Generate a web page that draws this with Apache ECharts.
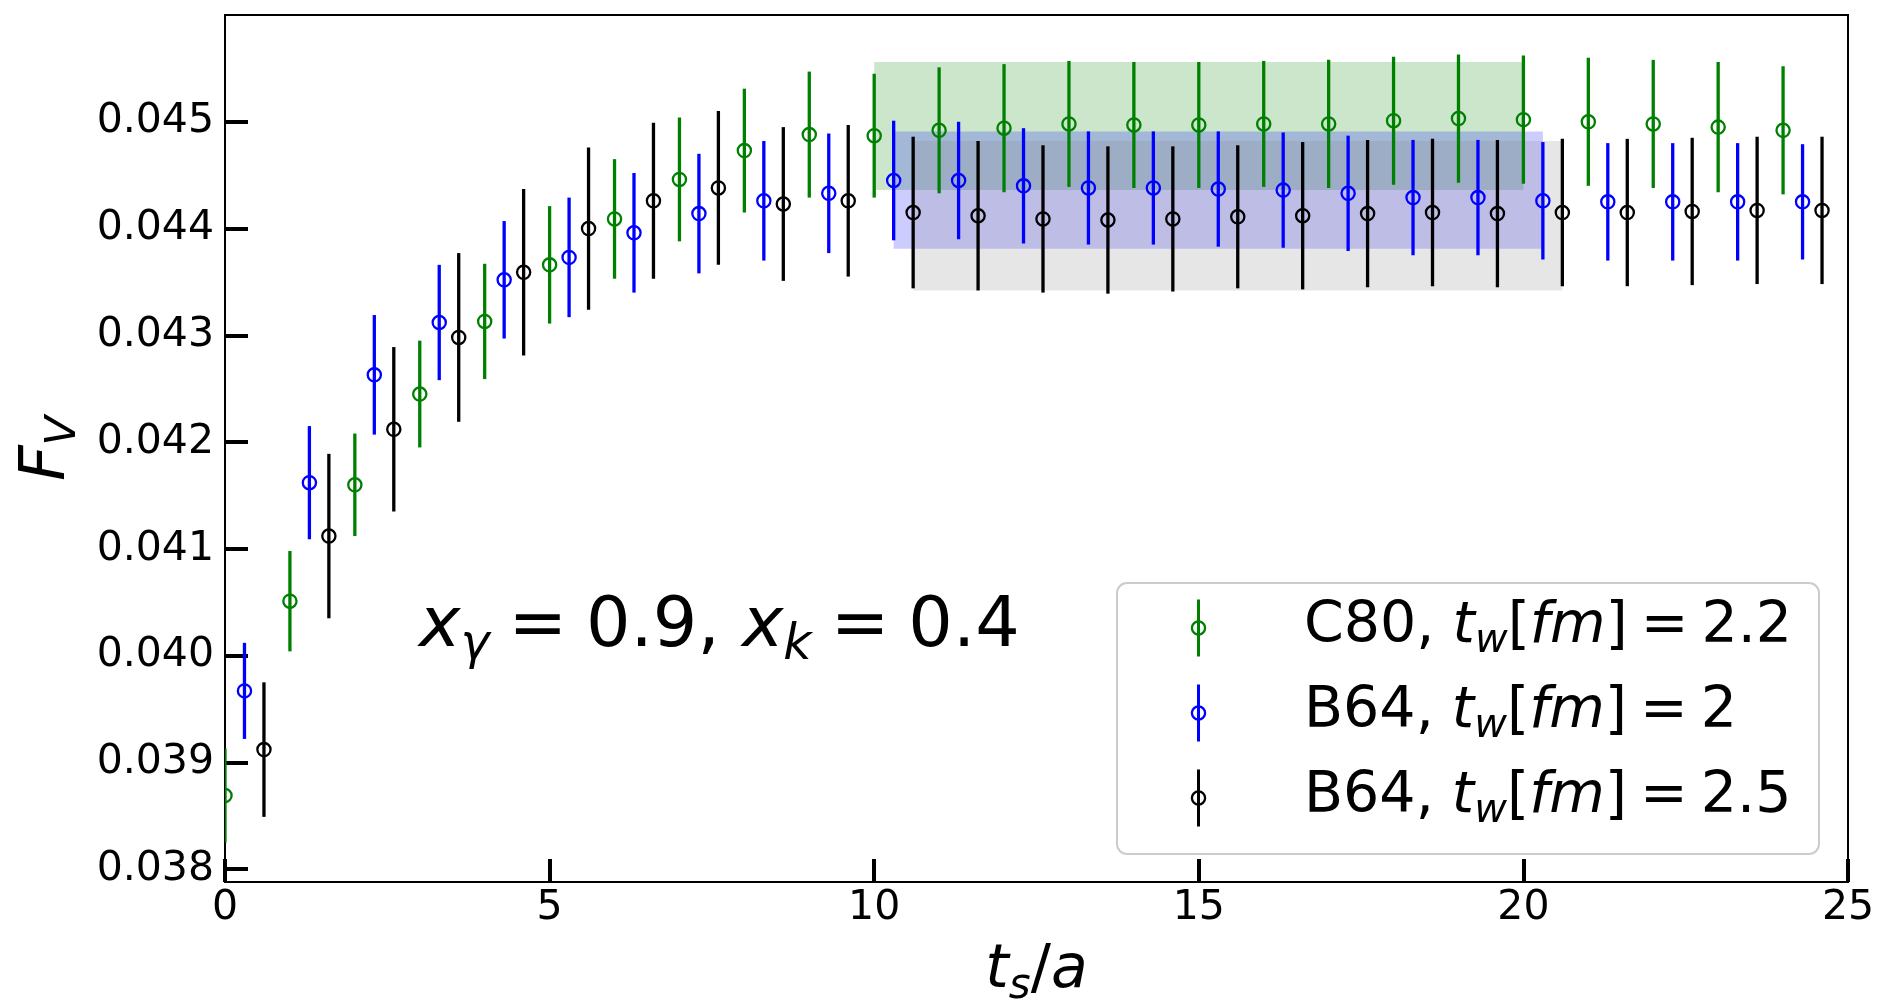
<!DOCTYPE html>
<html>
<head>
<meta charset="utf-8">
<script src="https://cdn.jsdelivr.net/npm/echarts@6/dist/echarts.min.js"></script>
<style>
  html, body {margin: 0; padding: 0; background: #fff;}
  #chart {width: 1880px; height: 1003px;}
</style>
</head>
<body>
<div id="chart"></div>
<script>
// C80, t_w = 2.2 fm (green)
const tC80 = [0, 1, 2, 3, 4, 5, 6, 7, 8, 9, 10, 11, 12, 13, 14, 15, 16, 17, 18, 19, 20, 21, 22, 23, 24];
const fvC80 = [0.03869, 0.04051, 0.04160, 0.04245, 0.04313, 0.04366, 0.04409, 0.04446, 0.04473, 0.04488,
  0.04487, 0.04492, 0.04494, 0.04498, 0.04497, 0.04497, 0.04498, 0.04498, 0.04501, 0.04503,
  0.04502, 0.04500, 0.04498, 0.04495, 0.04492];
const errC80 = [0.00044, 0.00047, 0.00048, 0.00050, 0.00054, 0.00055, 0.00056, 0.00058, 0.00058, 0.00059,
  0.00058, 0.00059, 0.00060, 0.00059, 0.00059, 0.00059, 0.00059, 0.00060, 0.00060, 0.00060,
  0.00060, 0.00060, 0.00060, 0.00061, 0.00060];

// B64, t_w = 2 fm (blue)
const tB64a = [0.3, 1.3, 2.3, 3.3, 4.3, 5.3, 6.3, 7.3, 8.3, 9.3, 10.3, 11.3, 12.3, 13.3, 14.3, 15.3, 16.3, 17.3, 18.3, 19.3, 20.3, 21.3, 22.3, 23.3, 24.3];
const fvB64a = [0.03967, 0.04162, 0.04263, 0.04312, 0.04352, 0.04373, 0.04396, 0.04414, 0.04426, 0.04433,
  0.04445, 0.04445, 0.04440, 0.04438, 0.04438, 0.04437, 0.04436, 0.04433, 0.04429, 0.04429,
  0.04426, 0.04425, 0.04425, 0.04425, 0.04425];
const errB64a = [0.00045, 0.00053, 0.00056, 0.00054, 0.00055, 0.00056, 0.00056, 0.00056, 0.00056, 0.00056,
  0.00056, 0.00055, 0.00054, 0.00053, 0.00053, 0.00054, 0.00054, 0.00054, 0.00054, 0.00054,
  0.00055, 0.00055, 0.00055, 0.00055, 0.00054];

// B64, t_w = 2.5 fm (black)
const tB64b = [0.6, 1.6, 2.6, 3.6, 4.6, 5.6, 6.6, 7.6, 8.6, 9.6, 10.6, 11.6, 12.6, 13.6, 14.6, 15.6, 16.6, 17.6, 18.6, 19.6, 20.6, 21.6, 22.6, 23.6, 24.6];
const fvB64b = [0.03912, 0.04112, 0.04212, 0.04298, 0.04359, 0.04400, 0.04426, 0.04438, 0.04423, 0.04426,
  0.04415, 0.04412, 0.04409, 0.04408, 0.04409, 0.04411, 0.04412, 0.04414, 0.04415, 0.04414,
  0.04415, 0.04415, 0.04416, 0.04417, 0.04417];
const errB64b = [0.00063, 0.00077, 0.00077, 0.00079, 0.00078, 0.00076, 0.00073, 0.00072, 0.00072, 0.00071,
  0.00071, 0.00070, 0.00069, 0.00069, 0.00068, 0.00067, 0.00069, 0.00069, 0.00069, 0.00069,
  0.00069, 0.00069, 0.00069, 0.00069, 0.00069];

// plateau fit bands: green, blue, grey
const bandStart = [10, 10.3, 10.6];
const bandEnd = [20, 20.3, 20.6];
const bandCenter = [0.04496, 0.04436, 0.04412];
const bandErr = [0.00060, 0.00055, 0.00070];

const yTicks = [0.038, 0.039, 0.040, 0.041, 0.042, 0.043, 0.044, 0.045];

const seriesNames = ['C80, tw[fm] = 2.2', 'B64, tw[fm] = 2', 'B64, tw[fm] = 2.5'];
const legendRich = [
  '{n|C80, }{i|t}{s|w}{n|[}{i|fm}{n|]}{eq|=}{n|2.2}',
  '{n|B64, }{i|t}{s|w}{n|[}{i|fm}{n|]}{eq|=}{n|2}',
  '{n|B64, }{i|t}{s|w}{n|[}{i|fm}{n|]}{eq|=}{n|2.5}',
];
const colors = ['#008000', '#0000ff', '#000000'];
const bandColors = ['rgba(0,128,0,0.2)', 'rgba(0,0,255,0.2)', 'rgba(128,128,128,0.2)'];

const FONT = 'DejaVu Sans';

function mathRich(size, eqPad) {
  const lh = Math.round(size * 1.21);
  const sub = Math.round(size * 0.7);
  return {
    n: {fontFamily: FONT, fontSize: size, lineHeight: lh, color: '#000'},
    eq: {fontFamily: FONT, fontSize: size, lineHeight: lh, color: '#000', padding: [0, eqPad, 0, eqPad]},
    i: {fontFamily: FONT, fontStyle: 'italic', fontSize: size, lineHeight: lh, color: '#000'},
    s: {fontFamily: FONT, fontStyle: 'italic', fontSize: sub, lineHeight: sub, verticalAlign: 'bottom', color: '#000'},
  };
}

function errorBarSeries(name, color, xs, ys, errs) {
  return {
    type: 'custom',
    name,
    clip: true,
    z: 3,
    data: xs.map((x, i) => [x, ys[i], errs[i]]),
    encode: {x: 0, y: 1},
    renderItem: (params, api) => {
      const x = api.value(0), y = api.value(1), e = api.value(2);
      const c = api.coord([x, y]);
      const hi = api.coord([x, y + e]);
      const lo = api.coord([x, y - e]);
      return {
        type: 'group',
        children: [
          {type: 'line', shape: {x1: c[0], y1: hi[1], x2: c[0], y2: lo[1]}, style: {stroke: color, lineWidth: 3.3}},
          {type: 'circle', shape: {cx: c[0], cy: c[1], r: 6.6}, style: {fill: 'none', stroke: color, lineWidth: 2.3}},
        ],
      };
    },
  };
}

const chart = echarts.init(document.getElementById('chart'), null, {renderer: 'canvas'});

const legendRows = [628, 713, 798];
const legendGraphics = [{
  type: 'rect',
  z: 10,
  shape: {x: 1117, y: 583, width: 702, height: 271, r: 10},
  style: {fill: 'rgba(255,255,255,0.8)', stroke: '#cccccc', lineWidth: 2},
}];
legendRows.forEach((cy, i) => {
  legendGraphics.push(
    {type: 'line', z: 11, shape: {x1: 1198.5, y1: cy - 28.5, x2: 1198.5, y2: cy + 28.5}, style: {stroke: colors[i], lineWidth: 3}},
    {type: 'circle', z: 11, shape: {cx: 1198.5, cy, r: 6.6}, style: {fill: 'none', stroke: colors[i], lineWidth: 2.3}},
    {type: 'text', z: 11, x: 1304, y: cy - 1, style: {text: legendRich[i], rich: mathRich(57, 13), align: 'left', verticalAlign: 'middle'}},
  );
});

chart.setOption({
  animation: false,
  backgroundColor: '#fff',
  grid: {
    left: 225, right: 32, top: 15, bottom: 121,
    show: true, borderColor: '#000', borderWidth: 2,
    containLabel: false, outerBoundsMode: 'none',
  },
  xAxis: {
    type: 'value',
    min: 0,
    max: 25,
    interval: 5,
    name: '{i|t}{s|s}{n|/}{i|a}',
    nameLocation: 'middle',
    nameGap: 53,
    nameTextStyle: {rich: mathRich(60, 0)},
    axisLine: {show: true, lineStyle: {color: '#000', width: 2}},
    axisTick: {show: true, inside: true, length: 23, lineStyle: {color: '#000', width: 4}},
    axisLabel: {fontFamily: FONT, fontSize: 41, color: '#000', margin: 6, showMinLabel: true, showMaxLabel: true},
    splitLine: {show: false},
  },
  yAxis: {
    type: 'value',
    min: 0.03788,
    max: 0.046,
    name: '{i|F}{s|V}',
    nameLocation: 'middle',
    nameGap: 140,
    nameTextStyle: {rich: mathRich(62, 0)},
    axisLine: {show: true, lineStyle: {color: '#000', width: 2}},
    axisTick: {show: true, inside: true, length: 23, lineStyle: {color: '#000', width: 4}, customValues: yTicks},
    axisLabel: {fontFamily: FONT, fontSize: 41, color: '#000', margin: 11, customValues: yTicks, formatter: v => v.toFixed(3)},
    splitLine: {show: false},
  },
  graphic: [
    {
      type: 'text',
      z: 10,
      x: 419,
      y: 628,
      style: {
        text: '{i|x}{s|γ}{eq|=}{n|0.9, }{i|x}{s|k}{eq|=}{n|0.4}',
        rich: mathRich(70, 19),
        align: 'left',
        verticalAlign: 'middle',
      },
    },
    ...legendGraphics,
  ],
  series: [
    {
      type: 'custom',
      name: 'bands',
      clip: true,
      silent: true,
      z: 1,
      data: bandStart.map((s, i) => [s, bandEnd[i], bandCenter[i], bandErr[i]]),
      encode: {x: [0, 1], y: 2},
      renderItem: (params, api) => {
        const p0 = api.coord([api.value(0), api.value(2) + api.value(3)]);
        const p1 = api.coord([api.value(1), api.value(2) - api.value(3)]);
        return {
          type: 'rect',
          shape: {x: p0[0], y: p0[1], width: p1[0] - p0[0], height: p1[1] - p0[1]},
          style: {fill: bandColors[params.dataIndex]},
        };
      },
    },
    errorBarSeries(seriesNames[0], colors[0], tC80, fvC80, errC80),
    errorBarSeries(seriesNames[1], colors[1], tB64a, fvB64a, errB64a),
    errorBarSeries(seriesNames[2], colors[2], tB64b, fvB64b, errB64b),
  ],
});
</script>
</body>
</html>
